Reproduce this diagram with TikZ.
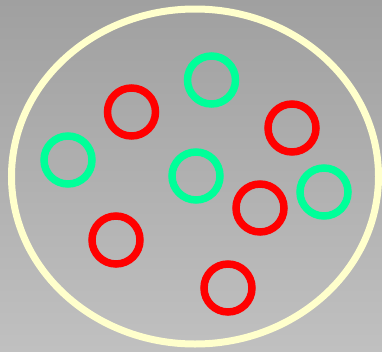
\documentclass[tikz,border=0pt]{standalone}
\begin{document}
\begin{tikzpicture}[x=1pt,y=-1pt,
  redring/.style={draw=red, line width=7.5pt},
  greenring/.style={draw=ringgreen, line width=7.5pt}]
\definecolor{ringgreen}{HTML}{00FF99}
\definecolor{cream}{HTML}{FFFFCC}
\definecolor{bgtop}{HTML}{A0A0A0}
\definecolor{bgbot}{HTML}{C0C0C0}
\useasboundingbox (0,0) rectangle (382,351);
\shade[top color=bgtop, bottom color=bgbot] (0,0) rectangle (382,351);
\draw[cream, line width=7pt] (195,176.5) ellipse [x radius=183.5, y radius=167.5];
\draw[redring] (131.5,112) circle [radius=24];
\draw[redring] (292,128) circle [radius=24];
\draw[redring] (260,208) circle [radius=24];
\draw[redring] (116,240) circle [radius=24];
\draw[redring] (228,288) circle [radius=24];
\draw[greenring] (211.5,80) circle [radius=24];
\draw[greenring] (68,160) circle [radius=24];
\draw[greenring] (196,176) circle [radius=24];
\draw[greenring] (324,192) circle [radius=24];
\end{tikzpicture}
\end{document}
